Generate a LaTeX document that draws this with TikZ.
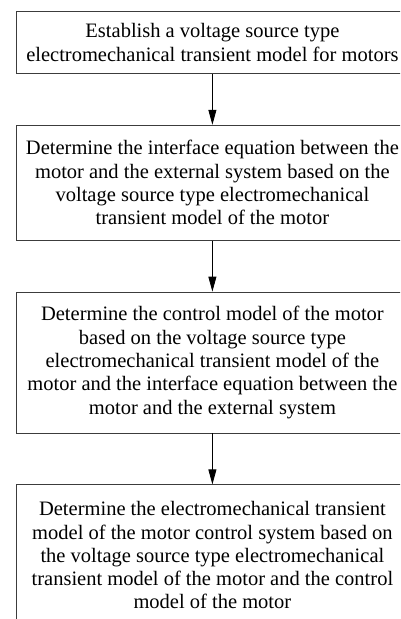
\documentclass[tikz,border=0pt]{standalone}
\usepackage{fontspec}
\setmainfont{Liberation Serif}
\usetikzlibrary{positioning,arrows.meta}
\definecolor{boxline}{RGB}{60,60,60}

\begin{document}
\begin{tikzpicture}[x=1pt,y=1pt,
        font=\fontsize{20.5}{23.3}\selectfont,
        node distance=51pt,
        stepbox/.style={draw=boxline,line width=0.8pt,align=center,
                        minimum width=392.6pt,inner xsep=2pt},
        flowarrow/.style={-{Triangle[length=15pt,width=8pt]},line width=0.8pt}]
    \useasboundingbox (0,0) rectangle (400,-619);
    \clip (0,0) rectangle (400,-619);
    % Schritte
    \node[stepbox,minimum height=62pt,anchor=north west] (establish) at (15.7,-11)
        {Establish a voltage source type\\electromechanical transient model for motors};
    \node[stepbox,minimum height=115pt,below=of establish] (interface)
        {Determine the interface equation between the\\motor and the external system based on the\\voltage source type electromechanical\\transient model of the motor};
    \node[stepbox,minimum height=141pt,below=of interface] (control)
        {Determine the control model of the motor\\based on the voltage source type\\electromechanical transient model of the\\motor and the interface equation between the\\motor and the external system};
    \node[stepbox,minimum height=141pt,below=of control] (system)
        {Determine the electromechanical transient\\model of the motor control system based on\\the voltage source type electromechanical\\transient model of the motor and the control\\model of the motor};
    % Pfeile
    \foreach \a/\b in {establish/interface,interface/control,control/system}{
        \draw[flowarrow] (\a) -- (\b);
    }
\end{tikzpicture}
\end{document}
